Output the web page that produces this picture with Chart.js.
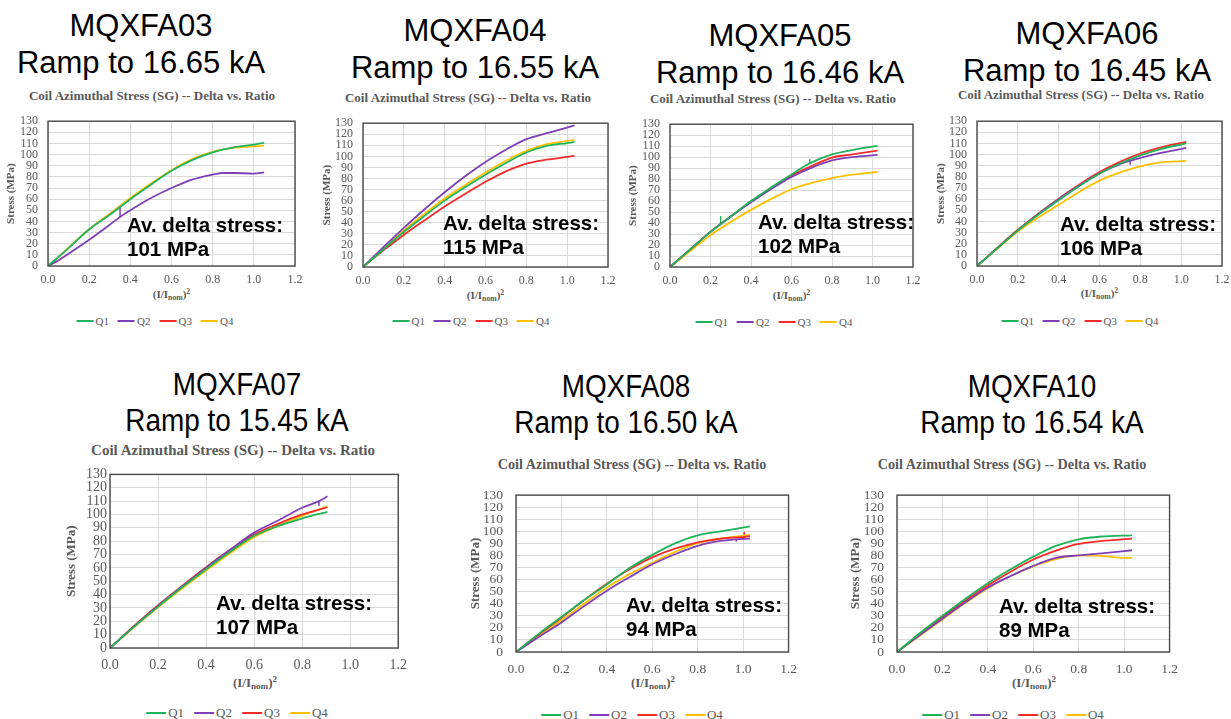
<!DOCTYPE html>
<html><head><meta charset="utf-8">
<script src="https://cdn.jsdelivr.net/npm/chart.js@4.4.1/dist/chart.umd.min.js"></script>
<style>
body{margin:0;background:#fff;width:1231px;height:719px;position:relative;overflow:hidden;font-family:'Liberation Sans',Arial,sans-serif}
.h{position:absolute;text-align:center;font-size:31px;line-height:37px;color:#000;white-space:nowrap;width:340px;margin-left:-170px}
.h.n{transform:scaleX(0.9);line-height:36px}
.ct{position:absolute;font-family:'Liberation Serif',serif;font-weight:bold;color:#595959;white-space:nowrap;transform:translate(-50%,-50%)}
.xt{position:absolute;font-family:'Liberation Serif',serif;font-weight:bold;color:#595959;white-space:nowrap;transform:translate(-50%,-50%)}
.xt sub{font-size:70%;vertical-align:-0.25em;line-height:0}
.xt sup{font-size:70%;vertical-align:0.5em;line-height:0}
.av{position:absolute;font-weight:bold;font-size:20.5px;line-height:24px;white-space:nowrap;color:#000}
.lg{position:absolute;display:flex;align-items:center;transform:translate(-50%,-50%);font-family:'Liberation Serif',serif;color:#595959;white-space:nowrap}
.lg i{display:inline-block;height:2px}
canvas{position:absolute}
</style>
</head><body>
<script>
// ---------- data ----------
const seriesNames = ['Q1','Q2','Q3','Q4'];
const xTickLabels = ['0.0','0.2','0.4','0.6','0.8','1.0','1.2'];
const yTickLabels = ['0','10','20','30','40','50','60','70','80','90','100','110','120','130'];

// MQXFA03
const a03_q1_x = [0,0.05,0.1,0.2,0.3,0.4,0.5,0.6,0.7,0.8,0.9,1.0,1.05];
const a03_q1_y = [0,8,16,33,46,60,73,85.5,95,102,106.5,109,110.5];
const a03_q2_x = [0,0.05,0.1,0.2,0.3,0.35,0.4,0.5,0.6,0.7,0.8,0.85,0.9,1.0,1.05];
const a03_q2_y = [0,5,11,23.5,37,44,50,61,70,77.5,82,83.5,83.5,83,84];
const a03_q3_x = [];
const a03_q3_y = [];
const a03_q4_x = [0,0.05,0.1,0.2,0.3,0.35,0.4,0.5,0.6,0.7,0.8,0.9,1.0,1.05];
const a03_q4_y = [0,8,16.5,33,47,54,61,74,86,96,102.5,106,107.5,108];
const a03_q2_spike_x = [0.35,0.35];
const a03_q2_spike_y = [44,53];

// MQXFA04
const a04_q1_x = [0,0.1,0.2,0.3,0.4,0.5,0.6,0.7,0.8,0.9,1.0,1.036];
const a04_q1_y = [0,16,31.6,46,60,72,83.4,94,103.5,109.5,112,113];
const a04_q2_x = [0,0.1,0.2,0.3,0.4,0.5,0.6,0.7,0.8,0.9,1.0,1.036];
const a04_q2_y = [0,18,35.4,52,67.6,82,95,106,115.6,121,126,128];
const a04_q3_x = [0,0.1,0.2,0.3,0.4,0.5,0.6,0.7,0.8,0.9,1.0,1.036];
const a04_q3_y = [0,15,29,42,54.6,66,77,86.5,93.5,97,99.5,100.5];
const a04_q4_x = [0,0.1,0.2,0.3,0.4,0.5,0.6,0.7,0.8,0.9,1.0,1.036];
const a04_q4_y = [0,16.5,33,48,62,74,85.4,96,105,111,114,115];
const a04_q3_spike_x = [0.2,0.2];
const a04_q3_spike_y = [29,33];

// MQXFA05
const a05_q1_x = [0,0.1,0.2,0.25,0.3,0.4,0.5,0.6,0.69,0.8,0.9,1.025];
const a05_q1_y = [0,16,32,39,46,60,72.5,84.3,94.3,102.5,106.5,110.3];
const a05_q2_x = [0,0.1,0.2,0.3,0.4,0.5,0.6,0.7,0.8,0.9,1.025];
const a05_q2_y = [0,16,32,46,59,71,82,90.5,97,100,102];
const a05_q3_x = [0,0.1,0.2,0.3,0.4,0.5,0.6,0.7,0.8,0.9,1.025];
const a05_q3_y = [0,16,32,46,59.5,72,83,92,99.6,102.5,106];
const a05_q4_x = [0,0.1,0.2,0.3,0.4,0.5,0.6,0.7,0.8,0.9,1.025];
const a05_q4_y = [0,14.5,29,41,52,62,70.8,76.5,81,84,86.5];
const a05_q1_spike1_x = [0.25,0.25];
const a05_q1_spike1_y = [39,46.5];
const a05_q1_spike2_x = [0.69,0.69];
const a05_q1_spike2_y = [94.3,98];

// MQXFA06
const a06_q1_x = [0,0.1,0.2,0.3,0.4,0.5,0.6,0.7,0.8,0.9,1.025];
const a06_q1_y = [0,16,32,46,59,71.5,83,92,99.4,105,110];
const a06_q2_x = [0,0.1,0.2,0.3,0.4,0.5,0.6,0.7,0.8,0.9,1.025];
const a06_q2_y = [0,16,32,46.5,60,72,83,91.5,97,101.5,106];
const a06_q3_x = [0,0.1,0.2,0.3,0.4,0.5,0.6,0.7,0.8,0.9,1.025];
const a06_q3_y = [0,16.5,32.5,47,60.5,73,84.3,93.5,101,106.5,111.4];
const a06_q4_x = [0,0.1,0.2,0.3,0.4,0.5,0.6,0.7,0.8,0.9,1.025];
const a06_q4_y = [0,15.5,31,43.5,55,66.5,76.6,84,89.4,93,94.3];
const a06_q2_spike_x = [0.75,0.75];
const a06_q2_spike_y = [94.5,91];

// MQXFA07
const a07_q1_x = [0,0.1,0.2,0.3,0.4,0.5,0.6,0.7,0.8,0.905];
const a07_q1_y = [0,16,31,45.5,59,72,84,91.4,97,102];
const a07_q2_x = [0,0.1,0.2,0.3,0.4,0.5,0.6,0.7,0.8,0.87,0.905];
const a07_q2_y = [0,16,31.5,46,60,73.5,86.4,95.5,105,110,113.6];
const a07_q3_x = [0,0.1,0.2,0.3,0.4,0.5,0.6,0.7,0.8,0.905];
const a07_q3_y = [0,16.5,32,46.5,60.5,73.5,85,93,100,105.4];
const a07_q4_x = [0,0.1,0.2,0.3,0.4,0.5,0.6,0.7,0.8,0.905];
const a07_q4_y = [0,15.5,30.5,44.5,58,71,83,91.4,99,106];
const a07_q2_spike_x = [0.87,0.87];
const a07_q2_spike_y = [110,106.5];

// MQXFA08
const a08_q1_x = [0,0.1,0.2,0.3,0.4,0.5,0.6,0.7,0.8,0.9,1.03];
const a08_q1_y = [0,15,29,43,56,69.6,80.5,90,96.7,100,104];
const a08_q2_x = [0,0.1,0.2,0.3,0.4,0.5,0.6,0.7,0.8,0.9,0.97,1.03];
const a08_q2_y = [0,12.5,24.5,38,50.8,62,72.7,81,88,92,93.3,94];
const a08_q3_x = [0,0.1,0.2,0.3,0.4,0.5,0.6,0.7,0.8,0.9,1.005,1.03];
const a08_q3_y = [0,14.5,28.4,43,56.5,68.5,78.4,85.6,90.8,94,95.3,96];
const a08_q4_x = [0,0.1,0.2,0.3,0.4,0.5,0.6,0.7,0.8,0.9,1.03];
const a08_q4_y = [0,13.5,26.3,40,53.4,64.5,74,83,90.3,94,97];
const a08_q2_spike_x = [0.97,0.97];
const a08_q2_spike_y = [93.3,91.5];
const a08_q3_spike_x = [1.005,1.005];
const a08_q3_spike_y = [95.3,99.5];

// MQXFA10
const a10_q1_x = [0,0.1,0.2,0.3,0.4,0.5,0.6,0.7,0.8,0.9,1.035];
const a10_q1_y = [0,15.5,30,44,57,68.5,79,88,93.4,95.7,96.7];
const a10_q2_x = [0,0.1,0.2,0.3,0.4,0.5,0.6,0.7,0.8,0.9,1.035];
const a10_q2_y = [0,14,27.6,41,53.4,63,71.4,78,80,81.8,84.3];
const a10_q3_x = [0,0.1,0.2,0.3,0.405,0.5,0.6,0.7,0.8,0.9,1.035];
const a10_q3_y = [0,14.5,29,42.5,55.8,66.5,76.6,84,89.5,92,94];
const a10_q4_x = [0,0.1,0.2,0.3,0.4,0.5,0.6,0.7,0.8,0.9,1.0,1.035];
const a10_q4_y = [0,13.5,27,40.5,52.9,63,71,77,80,79.7,78,78];
const a10_q3_spike_x = [0.405,0.405];
const a10_q3_spike_y = [55.8,58.5];

const colors = ['#1fb35b','#7f3fb8','#f32b2b','#ffc000'];

// ---------- layout ----------
const panels = [
 {name:'MQXFA03', ramp:'Ramp to 16.65 kA', av:'101 MPa', series:[[a03_q1_x,a03_q1_y],[a03_q2_x,a03_q2_y],[a03_q3_x,a03_q3_y],[a03_q4_x,a03_q4_y]],
  spikes:[[1,a03_q2_spike_x,a03_q2_spike_y]],
  L:48,R:295,T:114,B:266, yTX:12, hx:141,hy:7,narrow:false, tx:152,ty:96,tfs:13, xtY:294, lgX:155,lgY:321, avX:127,avY:213, tick:12, ytf:11, xtf:11, lgf:11, row:1},
 {name:'MQXFA04', ramp:'Ramp to 16.55 kA', av:'115 MPa', series:[[a04_q1_x,a04_q1_y],[a04_q2_x,a04_q2_y],[a04_q3_x,a04_q3_y],[a04_q4_x,a04_q4_y]],
  spikes:[[2,a04_q3_spike_x,a04_q3_spike_y]],
  L:363,R:608,T:116,B:267, yTX:328, hx:475,hy:12,narrow:false, tx:468,ty:98,tfs:13, xtY:295, lgX:471,lgY:321, avX:443,avY:211, tick:12, ytf:11, xtf:11, lgf:11, row:1},
 {name:'MQXFA05', ramp:'Ramp to 16.46 kA', av:'102 MPa', series:[[a05_q1_x,a05_q1_y],[a05_q2_x,a05_q2_y],[a05_q3_x,a05_q3_y],[a05_q4_x,a05_q4_y]],
  spikes:[[0,a05_q1_spike1_x,a05_q1_spike1_y],[0,a05_q1_spike2_x,a05_q1_spike2_y]],
  L:670,R:913,T:117,B:267, yTX:634, hx:780,hy:17,narrow:false, tx:773,ty:99,tfs:13, xtY:295, lgX:774,lgY:322, avX:758,avY:210, tick:12, ytf:11, xtf:11, lgf:11, row:1},
 {name:'MQXFA06', ramp:'Ramp to 16.45 kA', av:'106 MPa', series:[[a06_q1_x,a06_q1_y],[a06_q2_x,a06_q2_y],[a06_q3_x,a06_q3_y],[a06_q4_x,a06_q4_y]],
  spikes:[[1,a06_q2_spike_x,a06_q2_spike_y]],
  L:977,R:1222,T:114,B:266, yTX:942, hx:1087,hy:15,narrow:false, tx:1081,ty:95,tfs:13, xtY:293, lgX:1080,lgY:321, avX:1060,avY:212, tick:12, ytf:11, xtf:11, lgf:11, row:1},
 {name:'MQXFA07', ramp:'Ramp to 15.45 kA', av:'107 MPa', series:[[a07_q1_x,a07_q1_y],[a07_q2_x,a07_q2_y],[a07_q3_x,a07_q3_y],[a07_q4_x,a07_q4_y]],
  spikes:[[1,a07_q2_spike_x,a07_q2_spike_y]],
  L:110,R:400,T:473,B:648, yTX:72, hx:237,hy:367,narrow:true, tx:233,ty:450,tfs:15, xtY:683, lgX:237,lgY:713, avX:216,avY:591, tick:14, ytf:13, xtf:13, lgf:13, row:2},
 {name:'MQXFA08', ramp:'Ramp to 16.50 kA', av:'94 MPa', series:[[a08_q1_x,a08_q1_y],[a08_q2_x,a08_q2_y],[a08_q3_x,a08_q3_y],[a08_q4_x,a08_q4_y]],
  spikes:[[1,a08_q2_spike_x,a08_q2_spike_y],[2,a08_q3_spike_x,a08_q3_spike_y]],
  L:516,R:790,T:484,B:652, yTX:476, hx:626,hy:369,narrow:true, tx:632,ty:464,tfs:14.2, xtY:683, lgX:632,lgY:715, avX:626,avY:593, tick:13.5, ytf:13, xtf:13, lgf:13, row:2},
 {name:'MQXFA10', ramp:'Ramp to 16.54 kA', av:'89 MPa', series:[[a10_q1_x,a10_q1_y],[a10_q2_x,a10_q2_y],[a10_q3_x,a10_q3_y],[a10_q4_x,a10_q4_y]],
  spikes:[[2,a10_q3_spike_x,a10_q3_spike_y]],
  L:897,R:1171,T:484,B:652, yTX:856, hx:1032,hy:369,narrow:true, tx:1012,ty:464,tfs:14.2, xtY:683, lgX:1013,lgY:715, avX:999,avY:594, tick:13.5, ytf:13, xtf:13, lgf:13, row:2}
];

const framePlugin = {id:'frame', afterDatasetsDraw(c){
  const {ctx, chartArea:a} = c;
  ctx.save(); ctx.strokeStyle='#4a4a4a'; ctx.lineWidth=1.4;
  ctx.strokeRect(a.left, a.top, a.right-a.left, a.bottom-a.top); ctx.restore();
}};

function el(tag, cls, html, style){
  const e = document.createElement(tag); if(cls) e.className = cls;
  if(html!==undefined) e.innerHTML = html; if(style) e.style.cssText = style;
  document.body.appendChild(e); return e;
}

panels.forEach(p => {
  el('div', 'h'+(p.narrow?' n':''), p.name+'<br>'+p.ramp, `left:${p.hx}px;top:${p.hy}px`);
  el('div', 'ct', 'Coil Azimuthal Stress (SG) -- Delta vs. Ratio', `left:${p.tx}px;top:${p.ty}px;font-size:${p.tfs}px`);
  el('div', 'xt', '(I/I<sub>nom</sub>)<sup>2</sup>', `left:${(p.L+p.R)/2}px;top:${p.xtY}px;font-size:${p.xtf}px`);
  const lg = el('div', 'lg', '', `left:${p.lgX}px;top:${p.lgY}px;font-size:${p.lgf}px`);
  const lw = p.row===1 ? 17 : 20, gap = p.row===1 ? 9 : 10;
  seriesNames.forEach((n,i) => {
    lg.insertAdjacentHTML('beforeend', `<i style="width:${lw}px;background:${colors[i]};margin-right:2px"></i><span style="margin-right:${i<3?gap:0}px">${n}</span>`);
  });

  const lh = p.ytf*1.2;
  const cl = Math.round(p.yTX - lh/2);
  const padTop = 10, padRight = 16, xH = 28;
  const ct = p.T - padTop;
  const w = p.R + padRight - cl, h = p.B + xH - ct;
  const cv = document.createElement('canvas');
  cv.width = w; cv.height = h;
  cv.style.cssText = `left:${cl}px;top:${ct}px;width:${w}px;height:${h}px`;
  document.body.appendChild(cv);
  const yW = p.L - cl;
  const tickFont = {family:"'Liberation Serif', serif", size:p.tick};
  const datasets = p.series.map((s,i) => ({
      label: seriesNames[i],
      data: s[0].map((x,k) => ({x:x, y:s[1][k]})),
      showLine:true, borderColor:colors[i], backgroundColor:colors[i],
      borderWidth:1.8, pointRadius:0, cubicInterpolationMode:'monotone'
  }));
  p.spikes.forEach(sp => datasets.push({
      label: seriesNames[sp[0]] + ' spike',
      data: sp[1].map((x,k) => ({x:x, y:sp[2][k]})),
      showLine:true, borderColor:colors[sp[0]], backgroundColor:colors[sp[0]],
      borderWidth:1.5, pointRadius:0, tension:0
  }));
  new Chart(cv, {
    type:'scatter',
    data:{datasets},
    options:{
      responsive:false, animation:false, events:[], devicePixelRatio:1,
      layout:{padding:{left:0, top:padTop, right:padRight, bottom:0}},
      plugins:{legend:{display:false}, tooltip:{enabled:false}, title:{display:false}},
      scales:{
        x:{type:'linear', min:0, max:1.2,
           afterBuildTicks: ax => { ax.ticks = xTickLabels.map(v => ({value: parseFloat(v)})); },
           ticks:{callback:(v,i) => xTickLabels[i], font:tickFont, color:'#595959', padding:p.row===1?7:9, maxRotation:0, autoSkip:false},
           grid:{color:'#d9d9d9', lineWidth:1, drawTicks:false}, border:{display:false},
           afterFit: s => { s.height = xH; }},
        y:{type:'linear', min:0, max:130,
           afterBuildTicks: ax => { ax.ticks = yTickLabels.map(v => ({value: parseFloat(v)})); },
           ticks:{callback:(v,i) => yTickLabels[i], font:tickFont, color:'#595959', padding:(p.row===1?10:(p.name==='MQXFA07'?3:13)), autoSkip:false},
           grid:{color:'#d9d9d9', lineWidth:1, drawTicks:false}, border:{display:false},
           title:{display:true, text:'Stress (MPa)', color:'#595959', padding:0,
                  font:{family:"'Liberation Serif', serif", size:p.ytf, weight:'bold'}},
           afterFit: s => { s.width = yW; }}
      }
    },
    plugins:[framePlugin]
  });

  el('div', 'av', 'Av. delta stress:<br>'+p.av, `left:${p.avX}px;top:${p.avY}px`);
});
</script>
</body></html>
